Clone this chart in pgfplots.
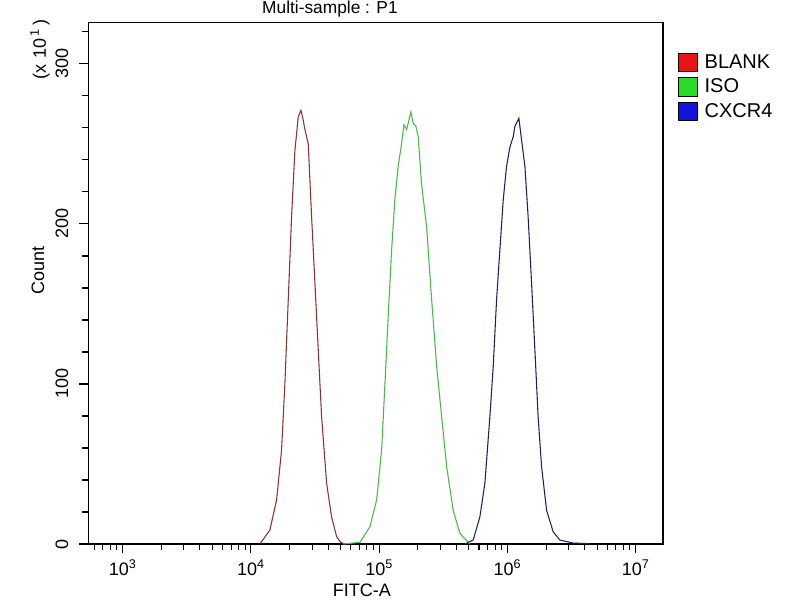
\documentclass[border=0pt]{standalone}
\usepackage{pgfplots}
\pgfplotsset{compat=1.18}
\usepackage{fontspec}
\setmainfont{Liberation Sans}
\definecolor{cblank}{RGB}{140,48,48}
\definecolor{ciso}{RGB}{70,185,70}
\definecolor{ccx}{RGB}{30,30,100}
\definecolor{lred}{RGB}{235,20,20}
\definecolor{lgreen}{RGB}{40,220,40}
\definecolor{lblue}{RGB}{20,20,220}

\pgfplotstableread{
x y
4.070 0
4.148 8.75
4.200 27.5
4.239 58.8
4.265 100.4
4.291 152.5
4.317 204.6
4.343 246
4.369 267
4.390 271
4.405 266
4.421 259
4.447 250
4.473 204.6
4.499 163
4.525 121
4.551 79.6
4.590 38
4.629 17
4.668 4.6
4.700 1
4.733 0
}\blank

\pgfplotstableread{
x y
4.720 0
4.850 1
4.928 10.8
4.980 27.5
5.019 58.8
5.045 100.4
5.070 142
5.097 184
5.122 215
5.148 236
5.174 250
5.193 262
5.214 259
5.247 270
5.265 263
5.286 261
5.304 254.6
5.330 225
5.370 198
5.409 152.5
5.448 111
5.487 79.6
5.526 48.3
5.577 21
5.629 6.7
5.707 0
}\iso

\pgfplotstableread{
x y
5.668 0
5.733 2.5
5.785 17
5.824 38
5.863 79.6
5.889 111
5.915 152.5
5.941 184
5.967 215
5.993 236
6.019 248
6.045 254.6
6.058 261
6.089 266
6.110 252.5
6.136 236
6.161 204.6
6.188 163
6.214 121
6.239 79.6
6.266 48.3
6.305 21
6.356 7.7
6.408 2.5
6.512 0.6
6.615 0.3
6.640 0
}\cxcr

\begin{document}
\fontsize{13}{15}\selectfont
\begin{tikzpicture}[x=1pt,y=1pt]
\path[use as bounding box] (0,0) rectangle (600,450);
\begin{axis}[
  at={(66.2pt,42pt)}, anchor=south west,
  scale only axis, width=431pt, height=391pt,
  xmin=2.732, xmax=7.212, ymin=0, ymax=325.8,
  axis line style={line width=1.1pt, black},
  tick style={black, line width=0.8pt},
  tick align=outside, xtick pos=bottom, ytick pos=left,
  major tick length=7pt, minor tick length=4.5pt,
  xtick={3,4,5,6,7},
  xticklabels={10\textsuperscript{3},10\textsuperscript{4},10\textsuperscript{5},10\textsuperscript{6},10\textsuperscript{7}},
  minor xtick={2.77815,2.84510,2.90309,2.95424,
    3.30103,3.47712,3.60206,3.69897,3.77815,3.84510,3.90309,3.95424,
    4.30103,4.47712,4.60206,4.69897,4.77815,4.84510,4.90309,4.95424,
    5.30103,5.47712,5.60206,5.69897,5.77815,5.84510,5.90309,5.95424,
    6.30103,6.47712,6.60206,6.69897,6.77815,6.84510,6.90309,6.95424},
  ytick={0,100,200,300}, yticklabels={0,100,200,300},
  minor ytick={20,40,60,80,120,140,160,180,220,240,260,280,320},
  yticklabel style={rotate=90, anchor=south, yshift=3.5pt, font=\fontsize{13.5}{15}\selectfont},
  xticklabel style={font=\fontsize{13.5}{15}\selectfont},
  xlabel={FITC-A}, ylabel={Count},
  every axis x label/.style={at={(axis description cs:0.476,-0.088)}, anchor=center, font=\fontsize{13.5}{15}\selectfont},
  every axis y label/.style={at={(axis description cs:-0.0875,0.525)}, rotate=90, anchor=center, font=\fontsize{13.5}{15}\selectfont},
  clip=false,
  legend style={at={(axis description cs:1,1)}, anchor=north west, xshift=11pt, yshift=-21.5pt,
    draw=none, fill=none, inner sep=0pt, row sep=2pt, font=\fontsize{15}{16}\selectfont,
    nodes={inner xsep=5.5pt}},
  legend cell align=left,
]
\addplot[cblank, line width=0.8pt, forget plot] table {\blank};
\addplot[ciso, line width=0.8pt, forget plot] table {\iso};
\addplot[ccx, line width=0.8pt, forget plot] table {\cxcr};
\addlegendimage{legend image code/.code={\draw[black, fill=lred, line width=0.6pt] (0pt,-7pt) rectangle (14pt,7pt);}}
\addlegendentry{BLANK}
\addlegendimage{legend image code/.code={\draw[black, fill=lgreen, line width=0.6pt] (0pt,-7pt) rectangle (14pt,7pt);}}
\addlegendentry{ISO}
\addlegendimage{legend image code/.code={\draw[black, fill=lblue, line width=0.6pt] (0pt,-7pt) rectangle (14pt,7pt);}}
\addlegendentry{CXCR4}
\node[rotate=90, anchor=center, font=\fontsize{13.5}{15}\selectfont] at (axis description cs:-0.084,0.948) {(x\,\,10\textsuperscript{\,1}\,)};
\node[anchor=center, font=\fontsize{13}{15}\selectfont] at (axis description cs:0.4206,1.026) {Multi-sample : P1};
\end{axis}
\end{tikzpicture}
\end{document}
